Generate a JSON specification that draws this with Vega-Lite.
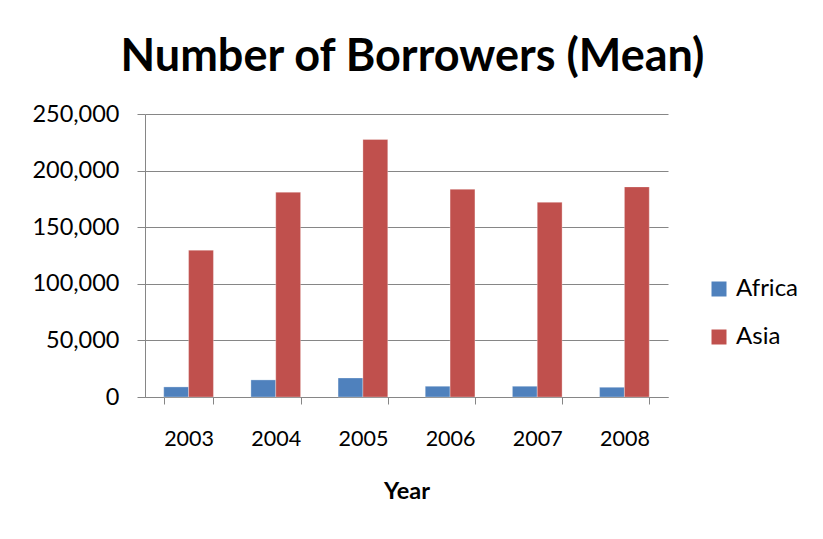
{
  "$schema": "https://vega.github.io/schema/vega-lite/v6.json",
  "width": 523,
  "height": 283,
  "autosize": "none",
  "padding": {"left": 145, "top": 114, "right": 155, "bottom": 142},
  "background": "white",
  "title": {
    "text": "Number of Borrowers (Mean)",
    "font": "Lato",
    "fontSize": 45,
    "fontWeight": "bold",
    "color": "black",
    "anchor": "middle",
    "dx": 6,
    "offset": 22
  },
  "data": {
    "values": [
      {"Year": "2003", "Region": "Africa", "Borrowers": 8900},
      {"Year": "2003", "Region": "Asia", "Borrowers": 129700},
      {"Year": "2004", "Region": "Africa", "Borrowers": 15100},
      {"Year": "2004", "Region": "Asia", "Borrowers": 180900},
      {"Year": "2005", "Region": "Africa", "Borrowers": 16800},
      {"Year": "2005", "Region": "Asia", "Borrowers": 227500},
      {"Year": "2006", "Region": "Africa", "Borrowers": 9500},
      {"Year": "2006", "Region": "Asia", "Borrowers": 183500},
      {"Year": "2007", "Region": "Africa", "Borrowers": 9500},
      {"Year": "2007", "Region": "Asia", "Borrowers": 172000},
      {"Year": "2008", "Region": "Africa", "Borrowers": 8600},
      {"Year": "2008", "Region": "Asia", "Borrowers": 185600}
    ]
  },
  "mark": {"type": "bar", "stroke": "white", "strokeWidth": 0.5, "strokeOpacity": 0.6},
  "encoding": {
    "x": {
      "field": "Year",
      "type": "nominal",
      "scale": {"paddingInner": 0.43, "paddingOuter": 0.215},
      "axis": {
        "title": "Year",
        "titleFont": "Lato",
        "titleFontSize": 23.5,
        "titleFontWeight": "bold",
        "titleColor": "black",
        "titlePadding": 30,
        "labelFont": "Lato",
        "labelFontSize": 21.5,
        "labelColor": "black",
        "labelAngle": 0,
        "labelPadding": 24,
        "tickBand": "extent",
        "tickSize": 7,
        "tickColor": "#868686",
        "domainColor": "#868686",
        "grid": false
      }
    },
    "xOffset": {"field": "Region", "type": "nominal", "scale": {"padding": 0}},
    "y": {
      "field": "Borrowers",
      "type": "quantitative",
      "scale": {"domain": [0, 250000]},
      "axis": {
        "title": null,
        "values": [0, 50000, 100000, 150000, 200000, 250000],
        "format": ",d",
        "labelFont": "Lato",
        "labelFontSize": 23.5,
        "labelColor": "black",
        "labelPadding": 18,
        "tickSize": 8,
        "tickColor": "#868686",
        "domainColor": "#868686",
        "gridColor": "#868686",
        "gridOpacity": 1
      }
    },
    "color": {
      "field": "Region",
      "type": "nominal",
      "scale": {"domain": ["Africa", "Asia"], "range": ["#4F81BD", "#C0504D"]},
      "legend": {
        "title": null,
        "orient": "none",
        "legendX": 562,
        "legendY": 163,
        "labelFont": "Lato",
        "labelFontSize": 24,
        "labelColor": "black",
        "labelOffset": 5,
        "symbolType": "square",
        "symbolSize": 225,
        "symbolStrokeWidth": 0,
        "rowPadding": 24,
        "padding": 0
      }
    }
  },
  "config": {
    "view": {"stroke": null},
    "axis": {"domainWidth": 1, "tickWidth": 1, "gridWidth": 1}
  }
}
